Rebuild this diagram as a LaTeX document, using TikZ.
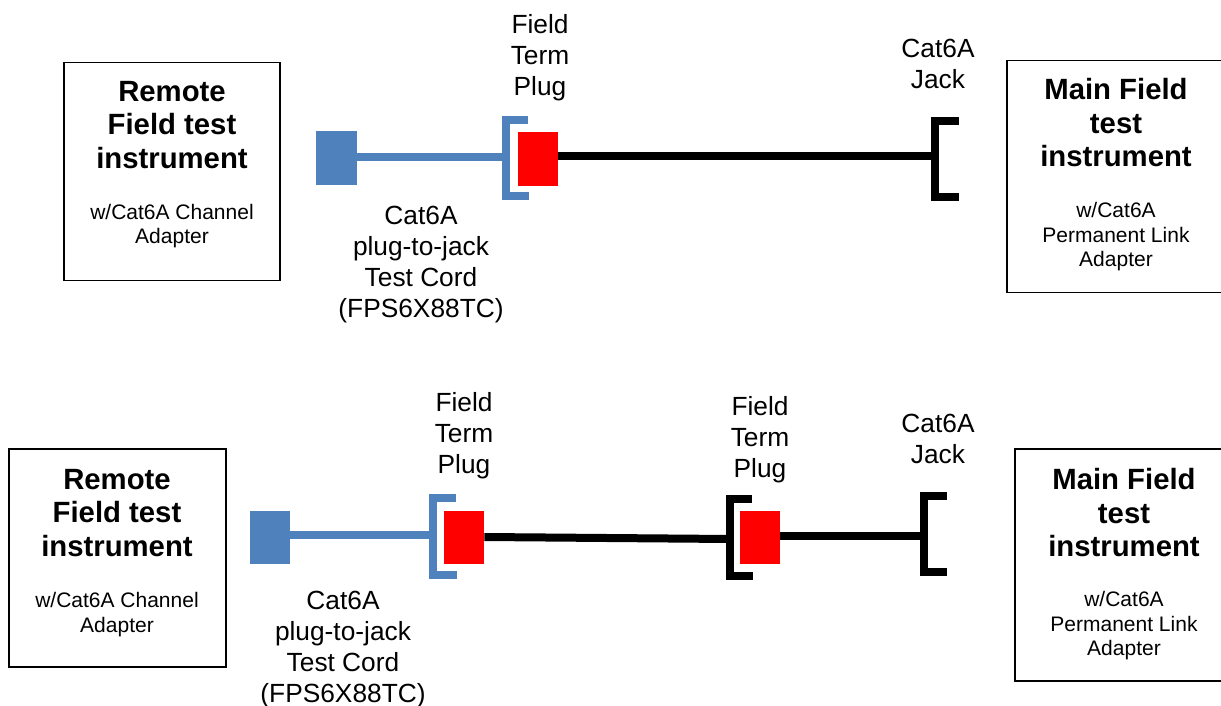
\documentclass[tikz,border=0pt]{standalone}
\usepackage{fontspec}
\setmainfont{Liberation Sans}
\begin{document}
\begin{tikzpicture}[
    x=1pt, y=-1pt,
    instr/.style={rectangle, draw, line width=1.75pt, align=center},
    title/.style={font=\fontsize{29.3}{33.5}\selectfont\bfseries, align=center},
    note/.style={font=\fontsize{21}{24.5}\selectfont, align=center},
    lbl/.style={font=\fontsize{26.3}{31}\selectfont, align=center},
    plugblue/.style={rectangle, fill=plainblue, inner sep=0pt, minimum width=40.5pt, minimum height=53pt},
    plugred/.style={rectangle, fill=red, inner sep=0pt, minimum width=40.5pt, minimum height=53pt},
    cordblue/.style={line width=8pt, draw=plainblue},
    cordblack/.style={line width=8pt, draw=black},
    brack/.style={line width=8pt}
]
    \definecolor{plainblue}{HTML}{4F81BD}
    \useasboundingbox (0,0) rectangle (1221,706);

    % Top row
    \node[instr, minimum width=216pt, minimum height=218pt] (remote1) at (172,171.5) {};
    \node[title] (remote1t) at (172,125) {Remote\\Field test\\instrument};
    \node[note] (remote1n) at (172,226) {w/Cat6A Channel\\Adapter};
    \node[instr, minimum width=217pt, minimum height=232pt] (main1) at (1115.5,176.5) {};
    \node[title] (main1t) at (1116,123) {Main Field\\test\\instrument};
    \node[note] (main1n) at (1116,237) {w/Cat6A\\Permanent Link\\Adapter};

    \node[plugblue] (blue1) at (336.5,158) {};
    \node[plugred] (red1) at (538,159) {};
    \coordinate (brk1) at (506,157);
    \coordinate (jack1) at (935,156);
    \draw[cordblue] (blue1.east |- brk1) -- (brk1);
    \draw[cordblack] (red1.east |- jack1) -- (jack1);
    \draw[brack, draw=plainblue] (528,120) -- (506,120) -- (506,196) -- (529,196);
    \draw[brack] (959,121) -- (935,121) -- (935,197) -- (959,197);

    \node[lbl] (field1) at (540,57.5) {Field\\Term\\Plug};
    \node[lbl] (cat1) at (938,64) {Cat6A\\Jack};
    \node[lbl] (cord1) at (421,264.5) {Cat6A\\plug-to-jack\\Test Cord\\(FPS6X88TC)};

    % Bottom row
    \node[instr, minimum width=217pt, minimum height=218pt] (remote2) at (117.5,558) {};
    \node[title] (remote2t) at (117,513) {Remote\\Field test\\instrument};
    \node[note] (remote2n) at (117,614.5) {w/Cat6A Channel\\Adapter};
    \node[instr, minimum width=217pt, minimum height=232pt] (main2) at (1123.5,565) {};
    \node[title] (main2t) at (1124,513) {Main Field\\test\\instrument};
    \node[note] (main2n) at (1124,626) {w/Cat6A\\Permanent Link\\Adapter};

    \node[plugblue] (blue2) at (270,537.5) {};
    \node[plugred] (red2) at (464,537) {};
    \node[plugred] (red3) at (760,537.5) {};
    \coordinate (brk2) at (433,535);
    \coordinate (brk3) at (730,539);
    \coordinate (jack2) at (924,536);
    \draw[cordblue] (blue2.east |- brk2) -- (brk2);
    \draw[cordblack] (red2.east) -- (brk3);
    \draw[cordblack] (red3.east |- jack2) -- (jack2);
    \draw[brack, draw=plainblue] (456,498) -- (433,498) -- (433,575) -- (457,575);
    \draw[brack] (752,499) -- (730,499) -- (730,576) -- (753,576);
    \draw[brack] (947,496) -- (924,496) -- (924,572) -- (947,572);

    \node[lbl] (field2) at (464,436) {Field\\Term\\Plug};
    \node[lbl] (field3) at (760,440) {Field\\Term\\Plug};
    \node[lbl] (cat2) at (938,439) {Cat6A\\Jack};
    \node[lbl] (cord2) at (343,649.5) {Cat6A\\plug-to-jack\\Test Cord\\(FPS6X88TC)};
\end{tikzpicture}
\end{document}
